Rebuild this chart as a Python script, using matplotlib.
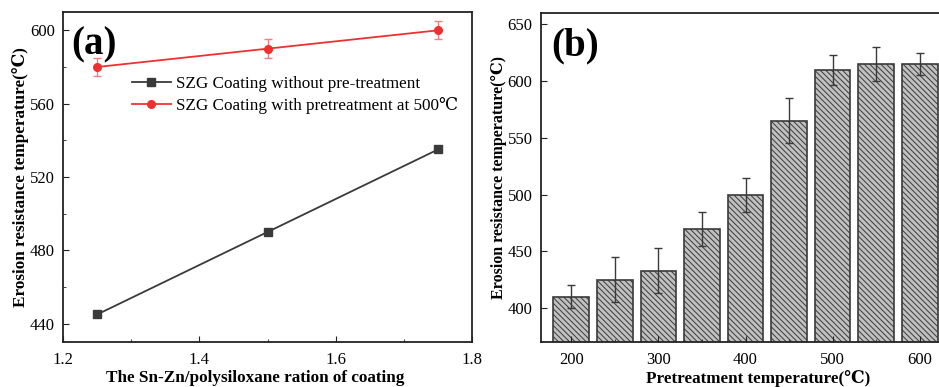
"""Erosion resistance temperature of SZG coatings"""
import matplotlib
matplotlib.use('Agg')
import matplotlib.pyplot as plt
from matplotlib.ticker import MultipleLocator

plt.rcParams['font.family'] = ['Liberation Serif', 'DejaVu Serif']
plt.rcParams['hatch.linewidth'] = 0.7
plt.rcParams['hatch.color'] = '#3a3a3a'

# (a) 涂层配比
ratio = [1.25, 1.5, 1.75]
no_pretreat = [445, 490, 535]
pretreat_500 = [580, 590, 600]
pretreat_err = [5, 5, 5]

# (b) 预处理温度
pre_temp = [200, 250, 300, 350, 400, 450, 500, 550, 600]
erosion_temp = [410, 425, 433, 470, 500, 565, 610, 615, 615]
erosion_err = [10, 20, 20, 15, 15, 20, 13, 15, 10]

fig = plt.figure(figsize=(9.39, 3.87), dpi=100)
ax1 = fig.add_axes([0.0671, 0.1163, 0.4356, 0.8527])
ax2 = fig.add_axes([0.576, 0.1163, 0.4313, 0.8500])

for ax in (ax1, ax2):
    for s in ax.spines.values():
        s.set_linewidth(1.3)
        s.set_color('#222222')
    ax.tick_params(direction='in', which='both', labelsize=12, color='#222222')
    ax.tick_params(which='major', length=4)
    ax.tick_params(which='minor', length=2.5)
    ax.tick_params(axis='x', pad=7)
    ax.tick_params(axis='y', pad=6)

# ---- (a)
ax1.plot(ratio, no_pretreat, 's-', color='#3a3a3a', ms=5.5, lw=1.3,
         label='SZG Coating without pre-treatment')
ax1.errorbar(ratio, pretreat_500, yerr=pretreat_err, fmt='none',
             ecolor='#f08080', capsize=3, elinewidth=1)
ax1.plot(ratio, pretreat_500, 'o-', color='#f03030', ms=5.5, lw=1.3,
         label='SZG Coating with pretreatment at 500\u2103')
ax1.set_xlim(1.2, 1.8)
ax1.set_ylim(430, 610)
ax1.xaxis.set_minor_locator(MultipleLocator(0.1))
ax1.yaxis.set_major_locator(MultipleLocator(40))
ax1.yaxis.set_minor_locator(MultipleLocator(20))
ax1.set_xticks([1.2, 1.4, 1.6, 1.8], ['1.2', '1.4', '1.6', '1.8'])
ax1.set_xlabel('The Sn-Zn/polysiloxane ration of coating', fontsize=12.3,
               fontweight='bold')
ax1.xaxis.set_label_coords(0.47, -0.085)
ax1.set_ylabel('Erosion resistance temperature(\u2103)', fontsize=12.3,
               fontweight='bold')
ax1.yaxis.set_label_coords(-0.083, 0.5)
ax1.text(0.02, 0.955, '(a)', transform=ax1.transAxes, fontsize=28,
         fontweight='bold', va='top', ha='left')
ax1.legend(loc='upper left', bbox_to_anchor=(0.168, 0.805), frameon=False,
           fontsize=12.3, handlelength=2.3, handletextpad=0.3,
           labelspacing=0.25, borderaxespad=0, borderpad=0)

# ---- (b)
ax2.bar(pre_temp, erosion_temp, width=41, bottom=0, yerr=erosion_err,
        color='#c0c0c0', edgecolor='#3a3a3a', linewidth=1.2, hatch='\\\\\\\\\\\\',
        capsize=3, error_kw=dict(elinewidth=1, ecolor='#3a3a3a', capthick=1))
ax2.set_xlim(165, 630)
ax2.set_ylim(370, 660)
ax2.set_xticks([200, 300, 400, 500, 600])
ax2.xaxis.set_minor_locator(MultipleLocator(50))
ax2.yaxis.set_major_locator(MultipleLocator(50))
ax2.set_xlabel('Pretreatment temperature(\u2103)', fontsize=12.3,
               fontweight='bold')
ax2.xaxis.set_label_coords(0.536, -0.085)
ax2.set_ylabel('Erosion resistance temperature(\u2103)', fontsize=11.5,
               fontweight='bold')
ax2.yaxis.set_label_coords(-0.083, 0.5)
ax2.text(0.025, 0.955, '(b)', transform=ax2.transAxes, fontsize=28,
         fontweight='bold', va='top', ha='left')

fig.savefig('out.png', dpi=100)
